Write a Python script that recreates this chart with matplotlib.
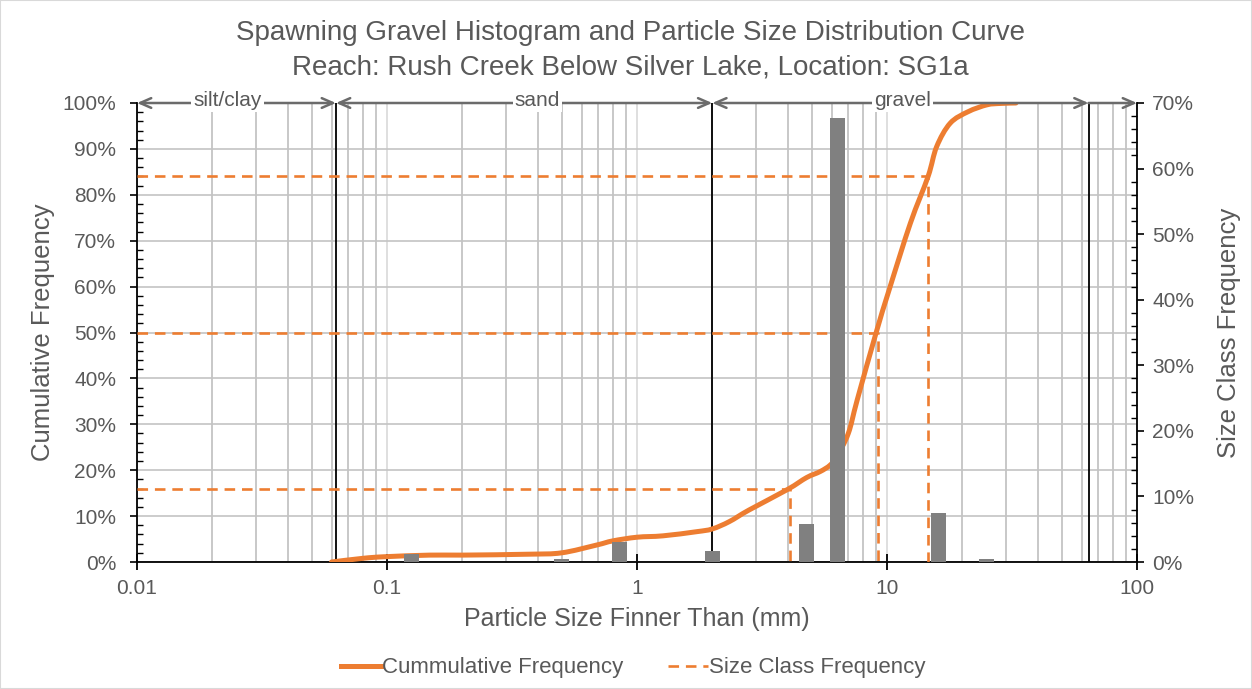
import numpy as np
import matplotlib
matplotlib.use('Agg')
import matplotlib.pyplot as plt
from matplotlib.ticker import FixedLocator, FuncFormatter, MultipleLocator, NullFormatter, LogLocator
from matplotlib.lines import Line2D
from matplotlib.patches import Rectangle, PathPatch
from matplotlib.path import Path

plt.rcParams['font.family'] = ['Liberation Sans', 'DejaVu Sans']

# ---------------- data ----------------
title_line1 = 'Spawning Gravel Histogram and Particle Size Distribution Curve'
title_line2 = 'Reach: Rush Creek Below Silver Lake, Location: SG1a'

cum_size_mm = [0.06, 0.08, 0.098, 0.148, 0.2, 0.37, 0.5, 0.69, 0.8, 1.0, 1.27, 1.73,
               2.0, 2.34, 2.8, 4.0, 4.77, 5.4, 5.92, 6.3, 7.0, 7.6, 9.04, 10.2, 12.4,
               14.6, 15.8, 17.9, 21.1, 25.1, 28.4, 32.8]
cum_pct = [0, 0.8, 1.15, 1.5, 1.5, 1.7, 2.0, 3.7, 4.6, 5.4, 5.7, 6.6,
           7.2, 8.8, 11.3, 15.8, 18.4, 19.7, 21.1, 23.0, 28.0, 35.3, 49.9, 59.3, 73.8,
           84.0, 90.5, 95.6, 98.1, 99.6, 99.9, 100]

bar_size_mm = [0.125, 0.5, 0.85, 2.0, 4.75, 6.35, 16.0, 25.0]
bar_pct = [1.2, 0.5, 3.0, 1.7, 5.75, 67.7, 7.5, 0.5]

d_pct = [16, 50, 84]
d_size_mm = [4.1, 9.2, 14.6]

class_bounds = [0.01, 0.0625, 2, 64, 100]
class_names = ['silt/clay', 'sand', 'gravel']
class_label_x = [0.023, 0.4, 11.5]

x_ticks = [0.01, 0.1, 1, 10, 100]
x_tick_labels = ['0.01', '0.1', '1', '10', '100']
left_ticks = list(range(0, 101, 10))
right_ticks = list(range(0, 71, 10))

# ---------------- style ----------------
ORANGE = '#ED7D31'
GRAY_TXT = '#595959'
BAR_GRAY = '#808080'

W, H = 1252, 689
fig = plt.figure(figsize=(W / 100, H / 100), dpi=100)
ax = fig.add_axes([137 / W, 1 - 562 / H, 1000 / W, 459 / H])
ax.set_xscale('log')
ax.set_xlim(0.01, 100)
ax.set_ylim(0, 100)
ax2 = ax.twinx()
ax2.set_ylim(0, 70)

# grid
ax.xaxis.set_major_locator(FixedLocator(x_ticks))
ax.xaxis.set_major_formatter(FuncFormatter(lambda v, p: x_tick_labels[x_ticks.index(v)] if v in x_ticks else ''))
ax.xaxis.set_minor_locator(LogLocator(base=10, subs=[2, 3, 4, 5, 6, 7, 8, 9], numticks=20))
ax.xaxis.set_minor_formatter(NullFormatter())
ax.grid(which='minor', axis='x', color='#bfbfbf', lw=1.2, zorder=0)
ax.grid(which='major', axis='x', color='#d9d9d9', lw=1.2, zorder=0)
ax.set_yticks(left_ticks)
ax.yaxis.set_major_formatter(FuncFormatter(lambda v, p: f'{int(v)}%'))
ax.yaxis.set_minor_locator(MultipleLocator(2))
ax.grid(which='major', axis='y', color='#c4c4c4', lw=1.2, zorder=0)
ax.set_axisbelow(True)

ax2.set_yticks(right_ticks)
ax2.yaxis.set_major_formatter(FuncFormatter(lambda v, p: f'{int(v)}%'))
ax2.yaxis.set_minor_locator(MultipleLocator(2))

for a in (ax, ax2):
    a.spines['top'].set_visible(False)
ax.spines['right'].set_visible(False)
ax2.spines['left'].set_visible(False)
ax2.spines['bottom'].set_visible(False)
for s in ('left', 'bottom'):
    ax.spines[s].set_color('black')
    ax.spines[s].set_linewidth(1.3)
ax2.spines['right'].set_color('black')
ax2.spines['right'].set_linewidth(1.3)

ax.tick_params(axis='x', which='major', direction='inout', length=12, width=1.3,
               labelsize=15, labelcolor=GRAY_TXT, pad=6)
ax.tick_params(axis='x', which='minor', length=0)
ax.tick_params(axis='y', which='major', direction='out', length=5, width=1.2,
               labelsize=15, labelcolor=GRAY_TXT, pad=10)
ax.tick_params(axis='y', which='minor', direction='in', length=4, width=1)
ax2.tick_params(axis='y', which='major', direction='out', length=5, width=1.2,
                labelsize=15, labelcolor=GRAY_TXT, pad=6)
ax2.tick_params(axis='y', which='minor', direction='in', length=4, width=1)

# class boundary lines
for b in class_bounds[1:-1]:
    ax.axvline(b, color='black', lw=1.3, zorder=1)

# class arrows and labels at top
for i in range(len(class_bounds) - 1):
    style = '<->,head_length=0.8,head_width=0.35' if i < 3 else '<-,head_length=0.8,head_width=0.35'
    ax.annotate('', xy=(class_bounds[i], 100), xytext=(class_bounds[i + 1], 100),
                xycoords='data', textcoords='data', annotation_clip=False,
                arrowprops=dict(arrowstyle=style, color='#6b6b6b', lw=1.8,
                                shrinkA=0, shrinkB=0), zorder=4)
for name, xl in zip(class_names, class_label_x):
    ax.text(xl, 100.6, name, ha='center', va='center', fontsize=15, color=GRAY_TXT,
            bbox=dict(facecolor='white', edgecolor='none', pad=1.5), zorder=5, clip_on=False)

# cumulative curve: smoothed (Catmull-Rom Bezier, like a spreadsheet "smooth line")
lx = np.log10(np.array(cum_size_mm, dtype=float))
py = np.array(cum_pct, dtype=float)
pts = np.column_stack([lx, py])
verts = [pts[0]]
codes = [Path.MOVETO]
n = len(pts)
for i in range(n - 1):
    p0 = pts[i - 1] if i > 0 else pts[i]
    p1 = pts[i]
    p2 = pts[i + 1]
    p3 = pts[i + 2] if i + 2 < n else pts[i + 1]
    c1 = p1 + (p2 - p0) / 6.0
    c2 = p2 - (p3 - p1) / 6.0
    verts += [c1, c2, p2]
    codes += [Path.CURVE4] * 3
verts = np.array(verts)
verts[:, 0] = 10 ** verts[:, 0]
curve = PathPatch(Path(verts, codes), facecolor='none', edgecolor=ORANGE, lw=3.6,
                  capstyle='round', joinstyle='round', zorder=3)
ax.add_patch(curve)

# D16/D50/D84 dashed lines
for p, d in zip(d_pct, d_size_mm):
    ax.plot([0.01, d, d], [p, p, 0], color=ORANGE, lw=1.9, ls=(0, (4, 2.6)), zorder=3)

# histogram bars (right axis)
half = 10 ** 0.03
lefts = [s / half for s in bar_size_mm]
widths = [s * half - s / half for s in bar_size_mm]
ax2.bar(lefts, bar_pct, width=widths, align='edge', color=BAR_GRAY, zorder=2)

# labels
ax.set_xlabel('Particle Size Finner Than (mm)', fontsize=18, color=GRAY_TXT, labelpad=7)
ax.set_ylabel('Cumulative Frequency', fontsize=18.5, color=GRAY_TXT, labelpad=5)
ax2.set_ylabel('Size Class Frequency', fontsize=18.5, color=GRAY_TXT, labelpad=16)

fig.text(630 / W, 1 - 33 / H, title_line1, ha='center', va='center', fontsize=20, color=GRAY_TXT)
fig.text(630 / W, 1 - 67 / H, title_line2, ha='center', va='center', fontsize=20, color=GRAY_TXT)

handles = [Line2D([], [], color=ORANGE, lw=3.6),
           Line2D([], [], color=ORANGE, lw=1.9, ls=(0, (4, 2.6)))]
fig.legend(handles, ['Cummulative Frequency', 'Size Class Frequency'], loc='center',
           bbox_to_anchor=(633 / W, 1 - 668 / H), ncol=2, frameon=False, fontsize=16,
           handlelength=1.8, handletextpad=0.05, columnspacing=2.0, labelcolor=GRAY_TXT)

fig.add_artist(Rectangle((0, 0), 1, 1, transform=fig.transFigure, fill=False,
                         ec='#d9d9d9', lw=1.5))

fig.savefig('out.png', dpi=100)
